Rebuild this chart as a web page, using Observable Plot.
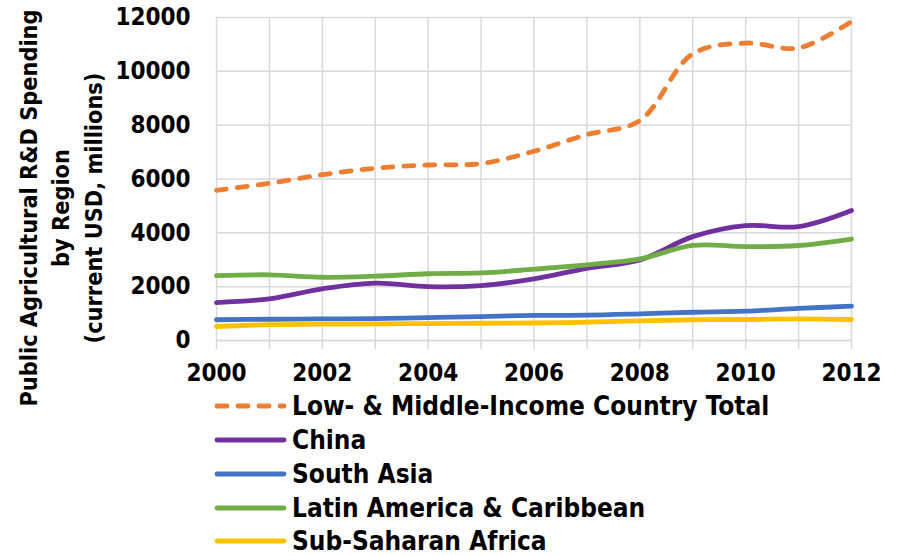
<!DOCTYPE html>
<html>
<head>
<meta charset="utf-8">
<script src="https://cdn.jsdelivr.net/npm/d3@7"></script>
<script src="https://cdn.jsdelivr.net/npm/@observablehq/plot@0.6"></script>
<style>
  html, body { margin: 0; padding: 0; background: #fff; }
  #chart svg { display: block; }
  #chart text { font-stretch: condensed; }
</style>
</head>
<body>
<div id="chart"></div>
<script>
const years = [2000, 2001, 2002, 2003, 2004, 2005, 2006, 2007, 2008, 2009, 2010, 2011, 2012];
const totalLMIC = [5580, 5840, 6160, 6400, 6520, 6570, 7030, 7650, 8170, 10650, 11050, 10870, 11850];
const china = [1410, 1550, 1920, 2130, 2000, 2040, 2290, 2680, 2990, 3860, 4270, 4230, 4830];
const southAsia = [770, 790, 800, 815, 850, 890, 930, 940, 990, 1050, 1090, 1190, 1275];
const latinAmerica = [2410, 2440, 2350, 2390, 2480, 2510, 2650, 2810, 3030, 3530, 3490, 3530, 3770];
const subSaharan = [520, 590, 605, 620, 630, 640, 650, 680, 730, 770, 780, 805, 780];
const seriesNames = ["Low- & Middle-Income Country Total", "China", "South Asia", "Latin America & Caribbean", "Sub-Saharan Africa"];
const seriesColors = ["#ED7D31", "#7030A0", "#4472C4", "#70AD47", "#FFC000"];
const seriesDash = ["10,11", null, null, null, null];
const yTicks = [0, 2000, 4000, 6000, 8000, 10000, 12000];
const xLabelTicks = [2000, 2002, 2004, 2006, 2008, 2010, 2012];
const yTitleLines = ["Public Agricultural R&D Spending", "by Region", "(current USD, millions)"];

const seriesValues = [totalLMIC, china, southAsia, latinAmerica, subSaharan];
const font = "'DejaVu Sans Condensed', 'DejaVu Sans', sans-serif";

const lineMarks = seriesValues.map((vals, i) =>
  Plot.line(years.map((y, j) => ({year: y, value: vals[j]})), {
    x: "year", y: "value",
    stroke: seriesColors[i], strokeWidth: 4.8,
    strokeDasharray: seriesDash[i] || undefined,
    strokeLinecap: "round", strokeLinejoin: "round",
    curve: "catmull-rom"
  })
);

const plot = Plot.plot({
  width: 900, height: 556,
  marginLeft: 216, marginRight: 49, marginTop: 17, marginBottom: 216,
  style: {fontFamily: font, fontSize: "24px", fontWeight: "bold", color: "#000", background: "#fff"},
  x: {domain: [2000, 2012]},
  y: {domain: [0, 12000]},
  marks: [
    Plot.gridY(yTicks, {stroke: "#d9d9d9", strokeOpacity: 1, strokeWidth: 1.5}),
    Plot.ruleY([0], {stroke: "#d9d9d9", strokeWidth: 1.5}),
    Plot.tickX(years, {x: d => d, y1: 0, y2: 0, stroke: "#d9d9d9", strokeWidth: 1.5, insetBottom: -9}),
    Plot.axisY(yTicks, {tickSize: 0, tickPadding: 26, tickFormat: d => String(d), label: null, fontSize: 24, fontWeight: "bold", fill: "#000"}),
    Plot.axisX(xLabelTicks, {tickSize: 0, tickPadding: 23, tickFormat: d => String(d), label: null, fontSize: 24, fontWeight: "bold", fill: "#000"}),
    ...lineMarks
  ]
});

document.getElementById("chart").appendChild(plot);

const svg = d3.select(plot);
// Y-axis title (three lines, rotated)
const tCx = [29, 61, 94];
yTitleLines.forEach((line, i) => {
  svg.append("text")
    .attr("transform", `translate(${tCx[i]},208) rotate(-90)`)
    .attr("text-anchor", "middle")
    .attr("dy", "0.35em")
    .attr("font-family", font)
    .attr("font-size", 23.3)
    .attr("font-weight", "bold")
    .attr("fill", "#000")
    .text(line);
});

// Legend
const legendY = [406, 440, 474, 508, 541];
const lg = svg.append("g");
seriesNames.forEach((name, i) => {
  lg.append("line")
    .attr("x1", 217).attr("x2", 284)
    .attr("y1", legendY[i]).attr("y2", legendY[i])
    .attr("stroke", seriesColors[i]).attr("stroke-width", 4.8)
    .attr("stroke-linecap", "round")
    .attr("stroke-dasharray", seriesDash[i] || null);
  lg.append("text")
    .attr("x", 292).attr("y", legendY[i])
    .attr("dy", "0.36em")
    .attr("text-anchor", "start")
    .attr("font-family", font)
    .attr("font-size", 26)
    .attr("font-weight", "bold")
    .attr("fill", "#000")
    .text(name);
});
</script>
</body>
</html>
